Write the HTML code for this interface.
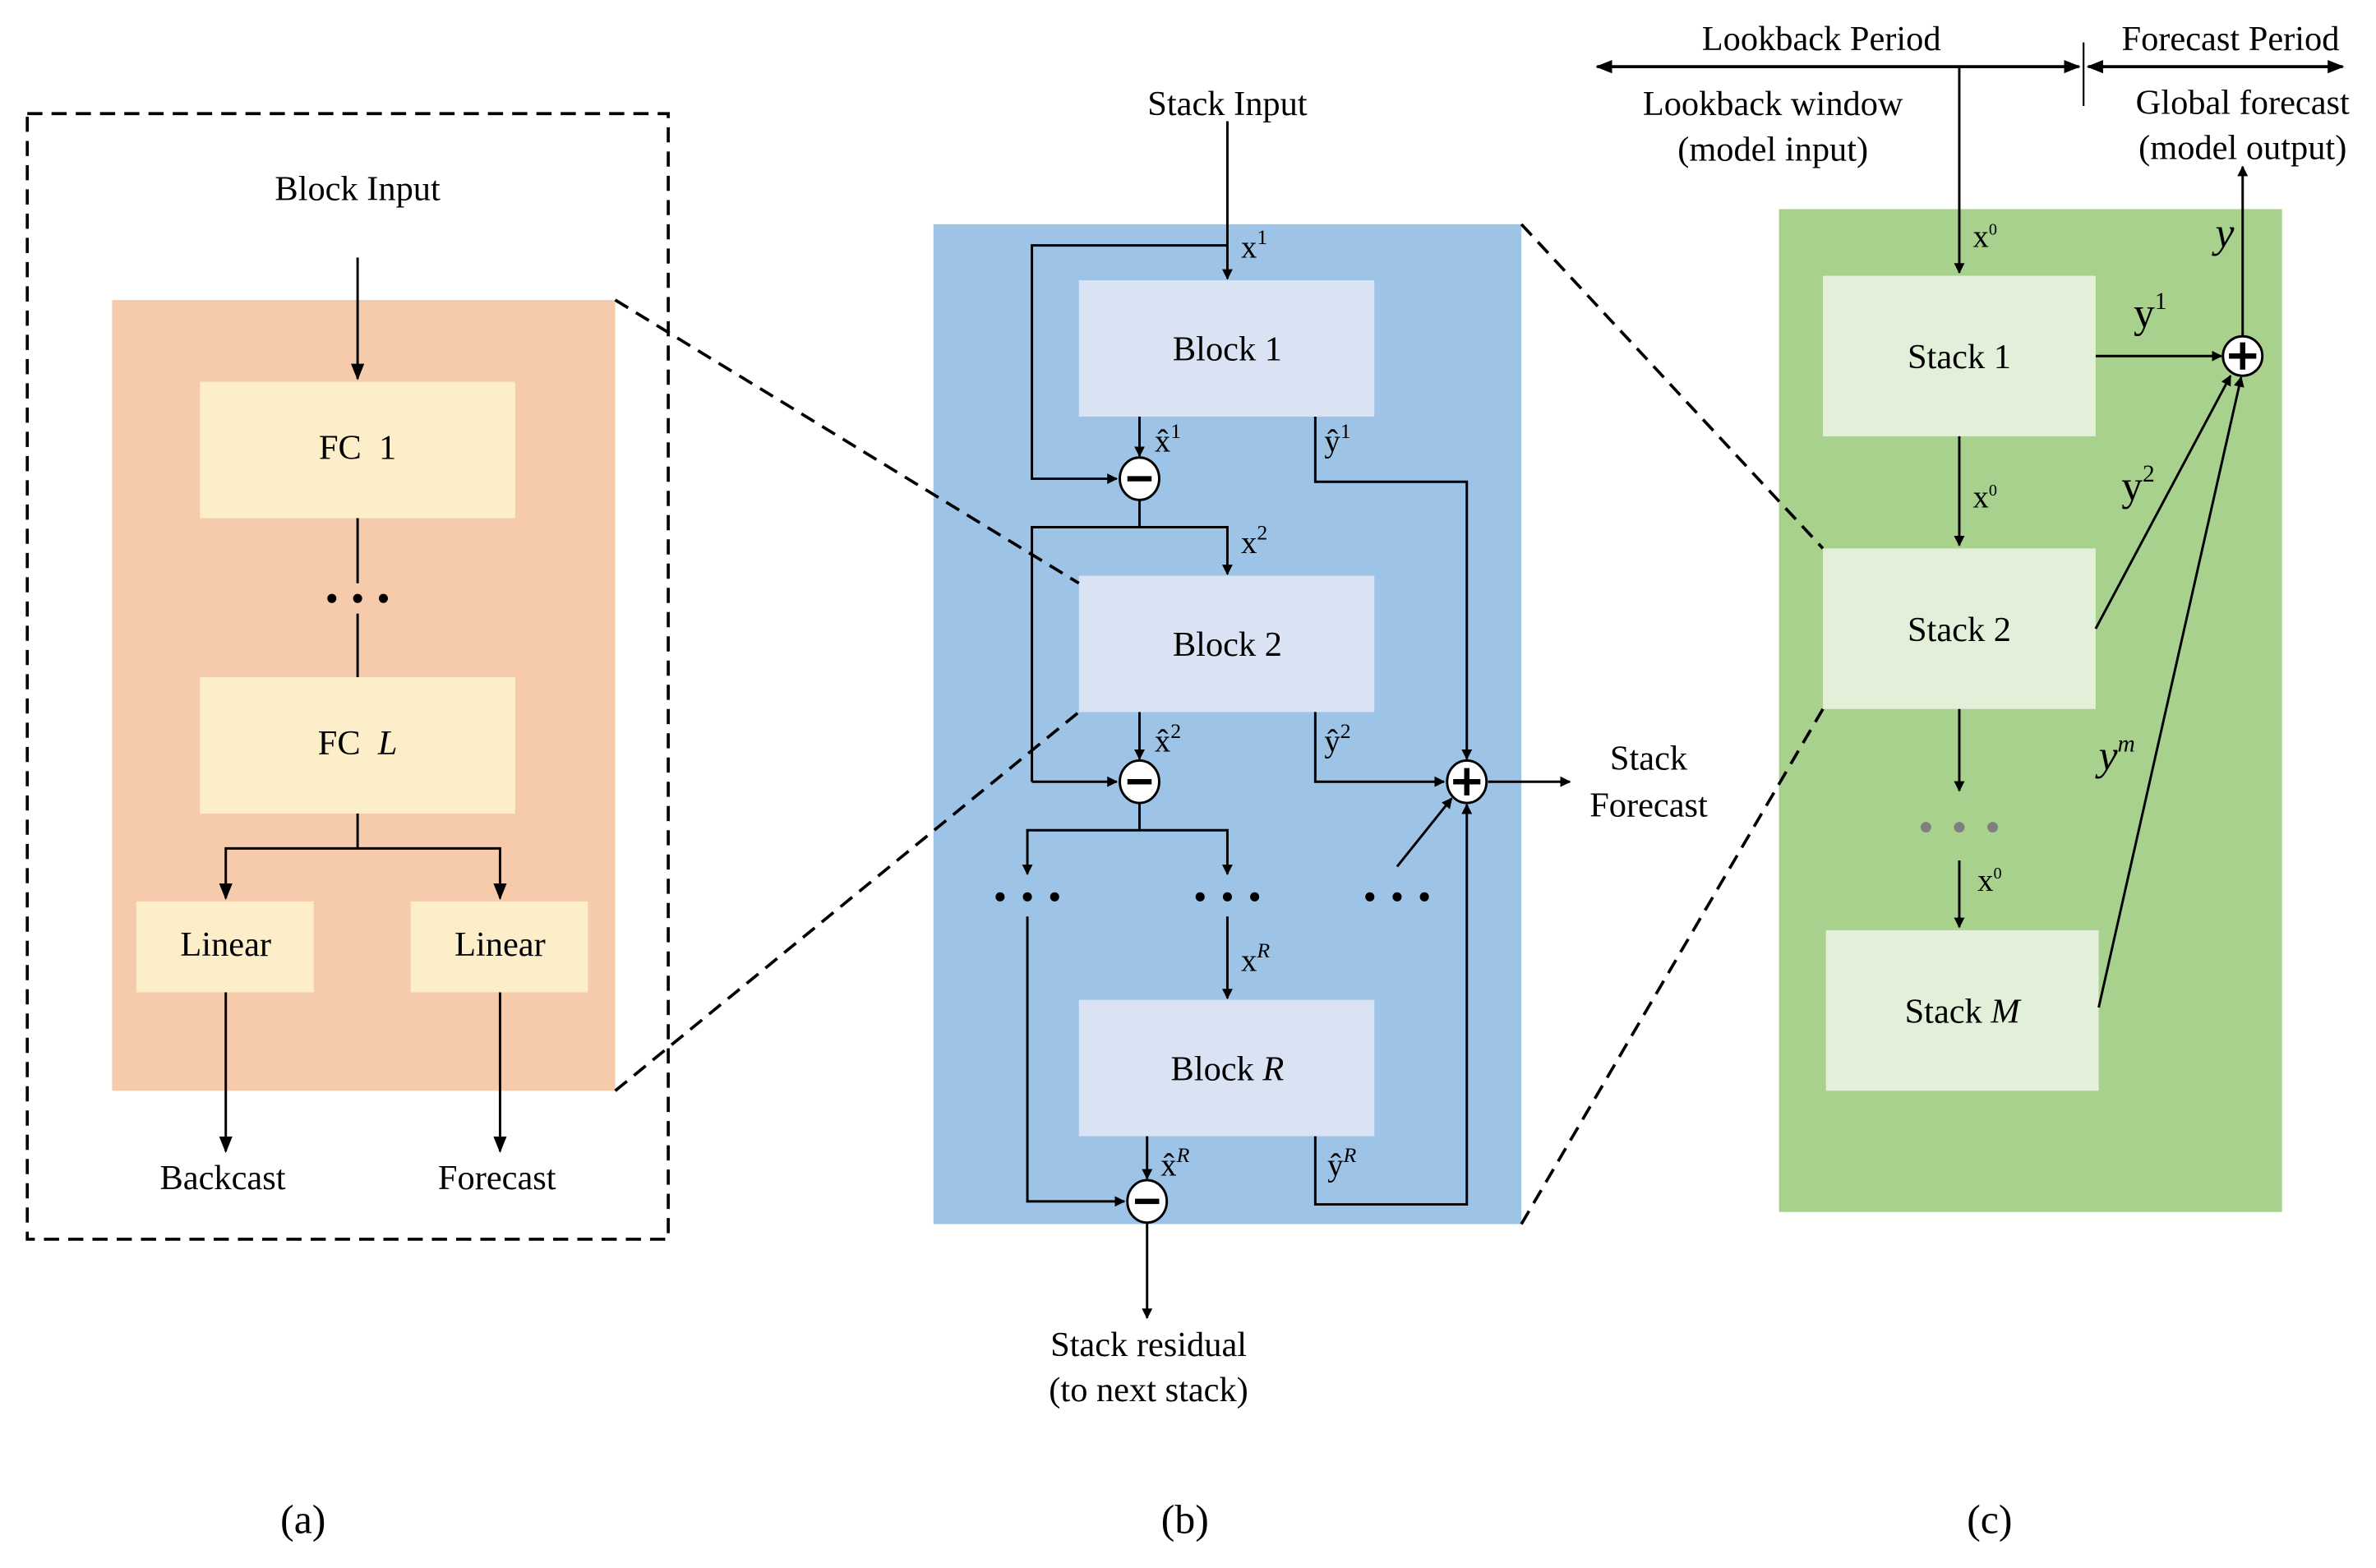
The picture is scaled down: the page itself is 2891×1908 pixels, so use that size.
<!DOCTYPE html>
<html><head><meta charset="utf-8"><style>
html,body{margin:0;padding:0;background:#fff;}
svg{display:block;}
svg text{font-family:"Liberation Serif","Times New Roman","DejaVu Serif",serif;fill:#000;}
</style></head><body>
<svg width="2891" height="1908" viewBox="0 0 1568 1035" preserveAspectRatio="none" xmlns="http://www.w3.org/2000/svg" font-family="'Liberation Serif', 'DejaVu Serif', serif">
<defs>
<marker id="a" viewBox="0 0 10 10" refX="9" refY="5" markerWidth="7" markerHeight="9" orient="auto-start-reverse" markerUnits="userSpaceOnUse"><path d="M0,0L10,5L0,10z" fill="#000"/></marker>
<marker id="b" viewBox="0 0 10 10" refX="9" refY="5" markerWidth="11" markerHeight="11" orient="auto-start-reverse" markerUnits="userSpaceOnUse"><path d="M0,1L10,5L0,9z" fill="#000"/></marker>
</defs>
<g stroke="#000" stroke-width="1.6" fill="none">
<rect x="18" y="75" width="423" height="743" stroke-dasharray="10,6" stroke-width="2"/>
</g>
<rect x="74" y="198" width="332" height="522" fill="#f5cbab"/>
<rect x="132" y="252" width="208" height="90" fill="#fdeeca"/>
<rect x="132" y="447" width="208" height="90" fill="#fdeeca"/>
<rect x="90" y="595" width="117" height="60" fill="#fdeeca"/>
<rect x="271" y="595" width="117" height="60" fill="#fdeeca"/>
<g stroke="#000" stroke-width="1.6" fill="none">
<line x1="236" y1="170" x2="236" y2="250" marker-end="url(#b)"/>
<line x1="236" y1="342" x2="236" y2="447"/>
<line x1="236" y1="537" x2="236" y2="560"/>
<polyline points="149,593 149,560 330,560 330,593" marker-start="url(#b)" marker-end="url(#b)"/>
<line x1="149" y1="655" x2="149" y2="760" marker-end="url(#b)"/>
<line x1="330" y1="655" x2="330" y2="760" marker-end="url(#b)"/>
</g>
<rect x="130" y="385" width="212" height="20" fill="#f5cbab"/>
<g fill="#000"><circle cx="219" cy="395" r="3"/><circle cx="236" cy="395" r="3"/><circle cx="253" cy="395" r="3"/></g>
<text x="236" y="132" font-size="23" text-anchor="middle">Block Input</text>
<text x="236" y="303" font-size="23" text-anchor="middle">FC&#160;&#160;1</text>
<text x="236" y="498" font-size="23" text-anchor="middle">FC&#160;&#160;<tspan font-style="italic">L</tspan></text>
<text x="149" y="631" font-size="23" text-anchor="middle">Linear</text>
<text x="330" y="631" font-size="23" text-anchor="middle">Linear</text>
<text x="147" y="785" font-size="23" text-anchor="middle">Backcast</text>
<text x="328" y="785" font-size="23" text-anchor="middle">Forecast</text>
<text x="200" y="1012" font-size="27" text-anchor="middle">(a)</text>

<rect x="616" y="148" width="388" height="660" fill="#9dc3e6"/>
<rect x="712" y="185" width="195" height="90" fill="#dae3f3"/>
<rect x="712" y="380" width="195" height="90" fill="#dae3f3"/>
<rect x="712" y="660" width="195" height="90" fill="#dae3f3"/>
<g stroke="#000" stroke-width="1.6" fill="none">
<line x1="810" y1="80" x2="810" y2="184" marker-end="url(#a)"/>
<polyline points="810,162 681,162 681,316 737,316" marker-end="url(#a)"/>
<line x1="752" y1="275" x2="752" y2="301" marker-end="url(#a)"/>
<line x1="752" y1="330" x2="752" y2="348"/>
<polyline points="681,516 681,348 810,348 810,379" marker-end="url(#a)"/>
<line x1="681" y1="516" x2="737" y2="516" marker-end="url(#a)"/>
<line x1="752" y1="470" x2="752" y2="501" marker-end="url(#a)"/>
<line x1="752" y1="530" x2="752" y2="548"/>
<polyline points="678,577 678,548 810,548 810,577" marker-start="url(#a)" marker-end="url(#a)"/>
<line x1="810" y1="605" x2="810" y2="659" marker-end="url(#a)"/>
<polyline points="678,605 678,793 742,793" marker-end="url(#a)"/>
<line x1="757" y1="750" x2="757" y2="778" marker-end="url(#a)"/>
<line x1="757" y1="807" x2="757" y2="870" marker-end="url(#a)"/>
<polyline points="868,275 868,318 968,318 968,501" marker-end="url(#a)"/>
<polyline points="868,470 868,516 953,516" marker-end="url(#a)"/>
<polyline points="868,750 868,795 968,795 968,531" marker-end="url(#a)"/>
<line x1="922" y1="572" x2="958" y2="527" marker-end="url(#a)"/>
<line x1="982" y1="516" x2="1036" y2="516" marker-end="url(#a)"/>
</g>
<g stroke="#000" stroke-width="1.6" fill="#fff">
<ellipse cx="752" cy="316" rx="13" ry="14"/>
<ellipse cx="752" cy="516" rx="13" ry="14"/>
<ellipse cx="757" cy="793" rx="13" ry="14"/>
<ellipse cx="968" cy="516" rx="13" ry="14"/>
</g>
<g stroke="#000" stroke-width="3.5">
<line x1="744" y1="316" x2="760" y2="316"/>
<line x1="744" y1="516" x2="760" y2="516"/>
<line x1="749" y1="793" x2="765" y2="793"/>
<line x1="959" y1="516" x2="977" y2="516"/>
<line x1="968" y1="507" x2="968" y2="525"/>
</g>
<g fill="#000">
<circle cx="660" cy="592" r="3"/><circle cx="678" cy="592" r="3"/><circle cx="696" cy="592" r="3"/>
<circle cx="792" cy="592" r="3"/><circle cx="810" cy="592" r="3"/><circle cx="828" cy="592" r="3"/>
<circle cx="904" cy="592" r="3"/><circle cx="922" cy="592" r="3"/><circle cx="940" cy="592" r="3"/>
</g>
<text x="810" y="76" font-size="23" text-anchor="middle">Stack Input</text>
<text x="819" y="170" font-size="21">x<tspan dy="-9" font-size="14">1</tspan></text>
<text x="819" y="365" font-size="21">x<tspan dy="-9" font-size="14">2</tspan></text>
<text x="819" y="641" font-size="21">x<tspan dy="-9" font-size="14" font-style="italic">R</tspan></text>
<text x="762" y="298" font-size="21">x̂<tspan dy="-9" font-size="14">1</tspan></text>
<text x="762" y="496" font-size="21">x̂<tspan dy="-9" font-size="14">2</tspan></text>
<text x="766" y="776" font-size="21">x̂<tspan dy="-9" font-size="14" font-style="italic">R</tspan></text>
<text x="874" y="298" font-size="21">ŷ<tspan dy="-9" font-size="14">1</tspan></text>
<text x="874" y="496" font-size="21">ŷ<tspan dy="-9" font-size="14">2</tspan></text>
<text x="876" y="776" font-size="21">ŷ<tspan dy="-9" font-size="14" font-style="italic">R</tspan></text>
<text x="810" y="238" font-size="23" text-anchor="middle">Block 1</text>
<text x="810" y="433" font-size="23" text-anchor="middle">Block 2</text>
<text x="810" y="713" font-size="23" text-anchor="middle">Block <tspan font-style="italic">R</tspan></text>
<text x="1088" y="508" font-size="23" text-anchor="middle">Stack</text>
<text x="1088" y="539" font-size="23" text-anchor="middle">Forecast</text>
<text x="758" y="895" font-size="23" text-anchor="middle">Stack residual</text>
<text x="758" y="925" font-size="23" text-anchor="middle">(to next stack)</text>
<text x="782" y="1012" font-size="27" text-anchor="middle">(b)</text>

<rect x="1174" y="138" width="332" height="662" fill="#a9d18e"/>
<rect x="1203" y="182" width="180" height="106" fill="#e2f0d9"/>
<rect x="1203" y="362" width="180" height="106" fill="#e2f0d9"/>
<rect x="1205" y="614" width="180" height="106" fill="#e2f0d9"/>
<g stroke="#000" stroke-width="1.6" fill="none">
<line x1="1054" y1="44" x2="1372" y2="44" marker-start="url(#b)" marker-end="url(#b)" stroke-width="2"/>
<line x1="1378" y1="44" x2="1546" y2="44" marker-start="url(#b)" marker-end="url(#b)" stroke-width="2"/>
<line x1="1375" y1="28" x2="1375" y2="70" stroke-width="1.2"/>
<line x1="1293" y1="44" x2="1293" y2="180" marker-end="url(#a)"/>
<line x1="1293" y1="288" x2="1293" y2="360" marker-end="url(#a)"/>
<line x1="1293" y1="468" x2="1293" y2="522" marker-end="url(#a)"/>
<line x1="1293" y1="568" x2="1293" y2="612" marker-end="url(#a)"/>
<line x1="1383" y1="235" x2="1466" y2="235" marker-end="url(#a)"/>
<line x1="1383" y1="415" x2="1472" y2="248" marker-end="url(#a)"/>
<line x1="1385" y1="665" x2="1479" y2="249" marker-end="url(#a)"/>
<line x1="1480" y1="222" x2="1480" y2="110" marker-end="url(#a)"/>
</g>
<circle cx="1480" cy="235" r="13" fill="#fff" stroke="#000" stroke-width="1.6"/>
<g stroke="#000" stroke-width="3.5"><line x1="1471" y1="235" x2="1489" y2="235"/><line x1="1480" y1="226" x2="1480" y2="244"/></g>
<g fill="#7f7f7f"><circle cx="1271" cy="546" r="3.5"/><circle cx="1293" cy="546" r="3.5"/><circle cx="1315" cy="546" r="3.5"/></g>
<text x="1202" y="33" font-size="23" text-anchor="middle">Lookback Period</text>
<text x="1472" y="33" font-size="23" text-anchor="middle">Forecast Period</text>
<text x="1170" y="76" font-size="23" text-anchor="middle">Lookback window</text>
<text x="1170" y="106" font-size="23" text-anchor="middle">(model input)</text>
<text x="1480" y="75" font-size="23" text-anchor="middle">Global forecast</text>
<text x="1480" y="105" font-size="23" text-anchor="middle">(model output)</text>
<text x="1302" y="163" font-size="21">x<tspan dy="-8" font-size="11">0</tspan></text>
<text x="1302" y="335" font-size="21">x<tspan dy="-8" font-size="11">0</tspan></text>
<text x="1305" y="588" font-size="21">x<tspan dy="-8" font-size="11">0</tspan></text>
<text x="1462" y="163" font-size="28" font-style="italic">y</text>
<text x="1408" y="216" font-size="28">y<tspan dy="-12" font-size="16">1</tspan></text>
<text x="1400" y="330" font-size="28">y<tspan dy="-12" font-size="16">2</tspan></text>
<text x="1385" y="508" font-size="28" font-style="italic">y<tspan dy="-12" font-size="16">m</tspan></text>
<text x="1293" y="243" font-size="23" text-anchor="middle">Stack 1</text>
<text x="1293" y="423" font-size="23" text-anchor="middle">Stack 2</text>
<text x="1295" y="675" font-size="23" text-anchor="middle">Stack <tspan font-style="italic">M</tspan></text>
<text x="1313" y="1012" font-size="27" text-anchor="middle">(c)</text>

<g stroke="#000" stroke-width="2" stroke-dasharray="10,6" fill="none">
<line x1="406" y1="198" x2="712" y2="385"/>
<line x1="406" y1="720" x2="712" y2="470"/>
<line x1="1004" y1="148" x2="1203" y2="362"/>
<line x1="1004" y1="808" x2="1203" y2="468"/>
</g>
</svg>
</body></html>
